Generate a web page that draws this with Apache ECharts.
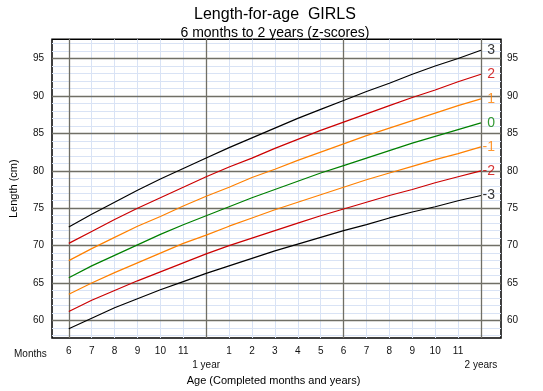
<!DOCTYPE html>
<html>
<head>
<meta charset="utf-8">
<script src="https://cdn.jsdelivr.net/npm/echarts@6/dist/echarts.min.js"></script>
<style>html,body{margin:0;padding:0;background:#fff}#c{width:543px;height:391px}</style>
</head>
<body>
<div id="c"></div>
<script>
// ---- data ----
var months = [6,7,8,9,10,11,12,13,14,15,16,17,18,19,20,21,22,23,24];
var sdNeg3 = [58.9,60.3,61.7,62.9,64.1,65.2,66.3,67.3,68.3,69.3,70.2,71.1,72.0,72.8,73.7,74.5,75.2,76.0,76.7];
var sdNeg2 = [61.2,62.7,64.0,65.3,66.5,67.7,68.9,70.0,71.0,72.0,73.0,74.0,74.9,75.8,76.7,77.5,78.4,79.2,80.0];
var sdNeg1 = [63.5,65.0,66.4,67.7,69.0,70.3,71.4,72.6,73.7,74.8,75.8,76.8,77.8,78.8,79.7,80.6,81.5,82.3,83.2];
var sd0    = [65.7,67.3,68.7,70.1,71.5,72.8,74.0,75.2,76.4,77.5,78.6,79.7,80.7,81.7,82.7,83.7,84.6,85.5,86.4];
var sdPos1 = [68.0,69.6,71.1,72.6,73.9,75.3,76.6,77.8,79.1,80.2,81.4,82.5,83.6,84.7,85.7,86.7,87.7,88.7,89.6];
var sdPos2 = [70.3,71.9,73.5,75.0,76.4,77.8,79.2,80.5,81.7,83.0,84.2,85.4,86.5,87.6,88.7,89.8,90.8,91.9,92.9];
var sdPos3 = [72.5,74.2,75.8,77.4,78.9,80.3,81.7,83.1,84.4,85.7,87.0,88.2,89.4,90.6,91.7,92.9,94.0,95.0,96.1];
var curveNames = ['3','2','1','0','-1','-2','-3'];
var monthTickValues = [6,7,8,9,10,11,13,14,15,16,17,18,19,20,21,22,23];
var monthTickLabels = ['6','7','8','9','10','11','1','2','3','4','5','6','7','8','9','10','11'];
var yearTickValues = [12,24];
var yearTickLabels = ['1 year','2 years'];
var lengthTicks = [60,65,70,75,80,85,90,95];
var minorX = [6,7,8,9,10,11,12,13,14,15,16,17,18,19,20,21,22,23,24];
var majorX = [6,12,18,24];
var minorY = [58,59,61,62,63,64,66,67,68,69,71,72,73,74,76,77,78,79,81,82,83,84,86,87,88,89,91,92,93,94,96,97];
var majorY = [60,65,70,75,80,85,90,95];

// ---- chart ----
var X_MIN = 5.267, X_MAX = 24.875, Y_MIN = 57.66, Y_MAX = 97.57;
var FONT = 'Arial, "Liberation Sans", sans-serif';
var curves = [sdPos3, sdPos2, sdPos1, sd0, sdNeg1, sdNeg2, sdNeg3];
var colors = ['#000000','#cc0000','#ff8000','#008000','#ff8000','#cc0000','#000000'];

function pairs(arr){ return months.map(function(m,i){ return [m, arr[i]]; }); }

var series = [];
function gridLines(vals, key, color, width, z){
  series.push({
    type:'line', data:[], silent:true, animation:false, z:z,
    markLine:{
      silent:true, animation:false, symbol:['none','none'], z:z, zlevel:0,
      label:{show:false},
      lineStyle:{color:color, width:width, type:'solid'},
      emphasis:{disabled:true},
      data: vals.map(function(v){ var o={}; o[key]=v; return o; })
    }
  });
}
gridLines(minorX, 'xAxis', '#d9e3f5', 1, 1);
gridLines(minorY, 'yAxis', '#d9e3f5', 1, 1);
gridLines(majorX, 'xAxis', '#706f66', 1.3, 2);
gridLines(majorY, 'yAxis', '#706f66', 1.3, 2);

curves.forEach(function(arr, i){
  series.push({
    type:'line', name:curveNames[i], data:pairs(arr), showSymbol:false, symbol:'none',
    lineStyle:{color:colors[i], width:1.2}, animation:false, z:6, silent:true
  });
  series.push({
    type:'scatter', data:[[months[months.length-1], arr[arr.length-1]]], symbolSize:0.01,
    silent:true, animation:false, z:7,
    label:{show:true, formatter:curveNames[i], position:[14,0], align:'right', verticalAlign:'middle',
      color:colors[i], fontSize:14, fontFamily:FONT}
  });
});

var chart = echarts.init(document.getElementById('c'), null, {renderer:'canvas'});
chart.setOption({
  backgroundColor:'#ffffff',
  animation:false,
  title:[
    {text:'Length-for-age  GIRLS', left:270, top:2, textAlign:'center',
     textStyle:{fontSize:16, fontWeight:'normal', color:'#000', fontFamily:FONT}},
    {text:'6 months to 2 years (z-scores)', left:270, top:21, textAlign:'center',
     textStyle:{fontSize:14, fontWeight:'normal', color:'#000', fontFamily:FONT}}
  ],
  grid:{left:46.3, right:42, top:39.3, bottom:50, show:true, borderColor:'#000', borderWidth:1.5, backgroundColor:'transparent'},
  xAxis:[
    {type:'value', min:X_MIN, max:X_MAX, position:'bottom',
     axisLine:{show:false}, axisTick:{show:false}, splitLine:{show:false},
     name:'Age (Completed months and years)', nameLocation:'middle', nameGap:37,
     nameTextStyle:{fontSize:11, color:'#000', fontFamily:FONT, padding:[0,6,0,0]},
     axisLabel:{customValues:monthTickValues, margin:8, fontSize:10, color:'#111', fontFamily:FONT,
       formatter:function(v){ var k=monthTickValues.indexOf(Math.round(v)); return k>=0?monthTickLabels[k]:''; }}},
    {type:'value', min:X_MIN, max:X_MAX, position:'bottom', offset:14,
     axisLine:{show:false}, axisTick:{show:false}, splitLine:{show:false},
     axisLabel:{customValues:yearTickValues, margin:8, fontSize:10, color:'#111', fontFamily:FONT,
       formatter:function(v){ var k=yearTickValues.indexOf(Math.round(v)); return k>=0?yearTickLabels[k]:''; }}}
  ],
  yAxis:[
    {type:'value', min:Y_MIN, max:Y_MAX, position:'left',
     axisLine:{show:false}, axisTick:{show:false}, splitLine:{show:false},
     name:'Length (cm)', nameLocation:'middle', nameGap:33, nameRotate:90,
     nameTextStyle:{fontSize:11, color:'#000', fontFamily:FONT},
     axisLabel:{customValues:lengthTicks, margin:8, fontSize:10, color:'#111', fontFamily:FONT}},
    {type:'value', min:Y_MIN, max:Y_MAX, position:'right',
     axisLine:{show:false}, axisTick:{show:false}, splitLine:{show:false},
     axisLabel:{customValues:lengthTicks, margin:6, fontSize:10, color:'#111', fontFamily:FONT}}
  ],
  graphic:[
    {type:'text', left:14, top:349, style:{text:'Months', fontSize:10, fill:'#111', font:'10px '+FONT}}
  ],
  series:series
});
</script>
</body>
</html>
